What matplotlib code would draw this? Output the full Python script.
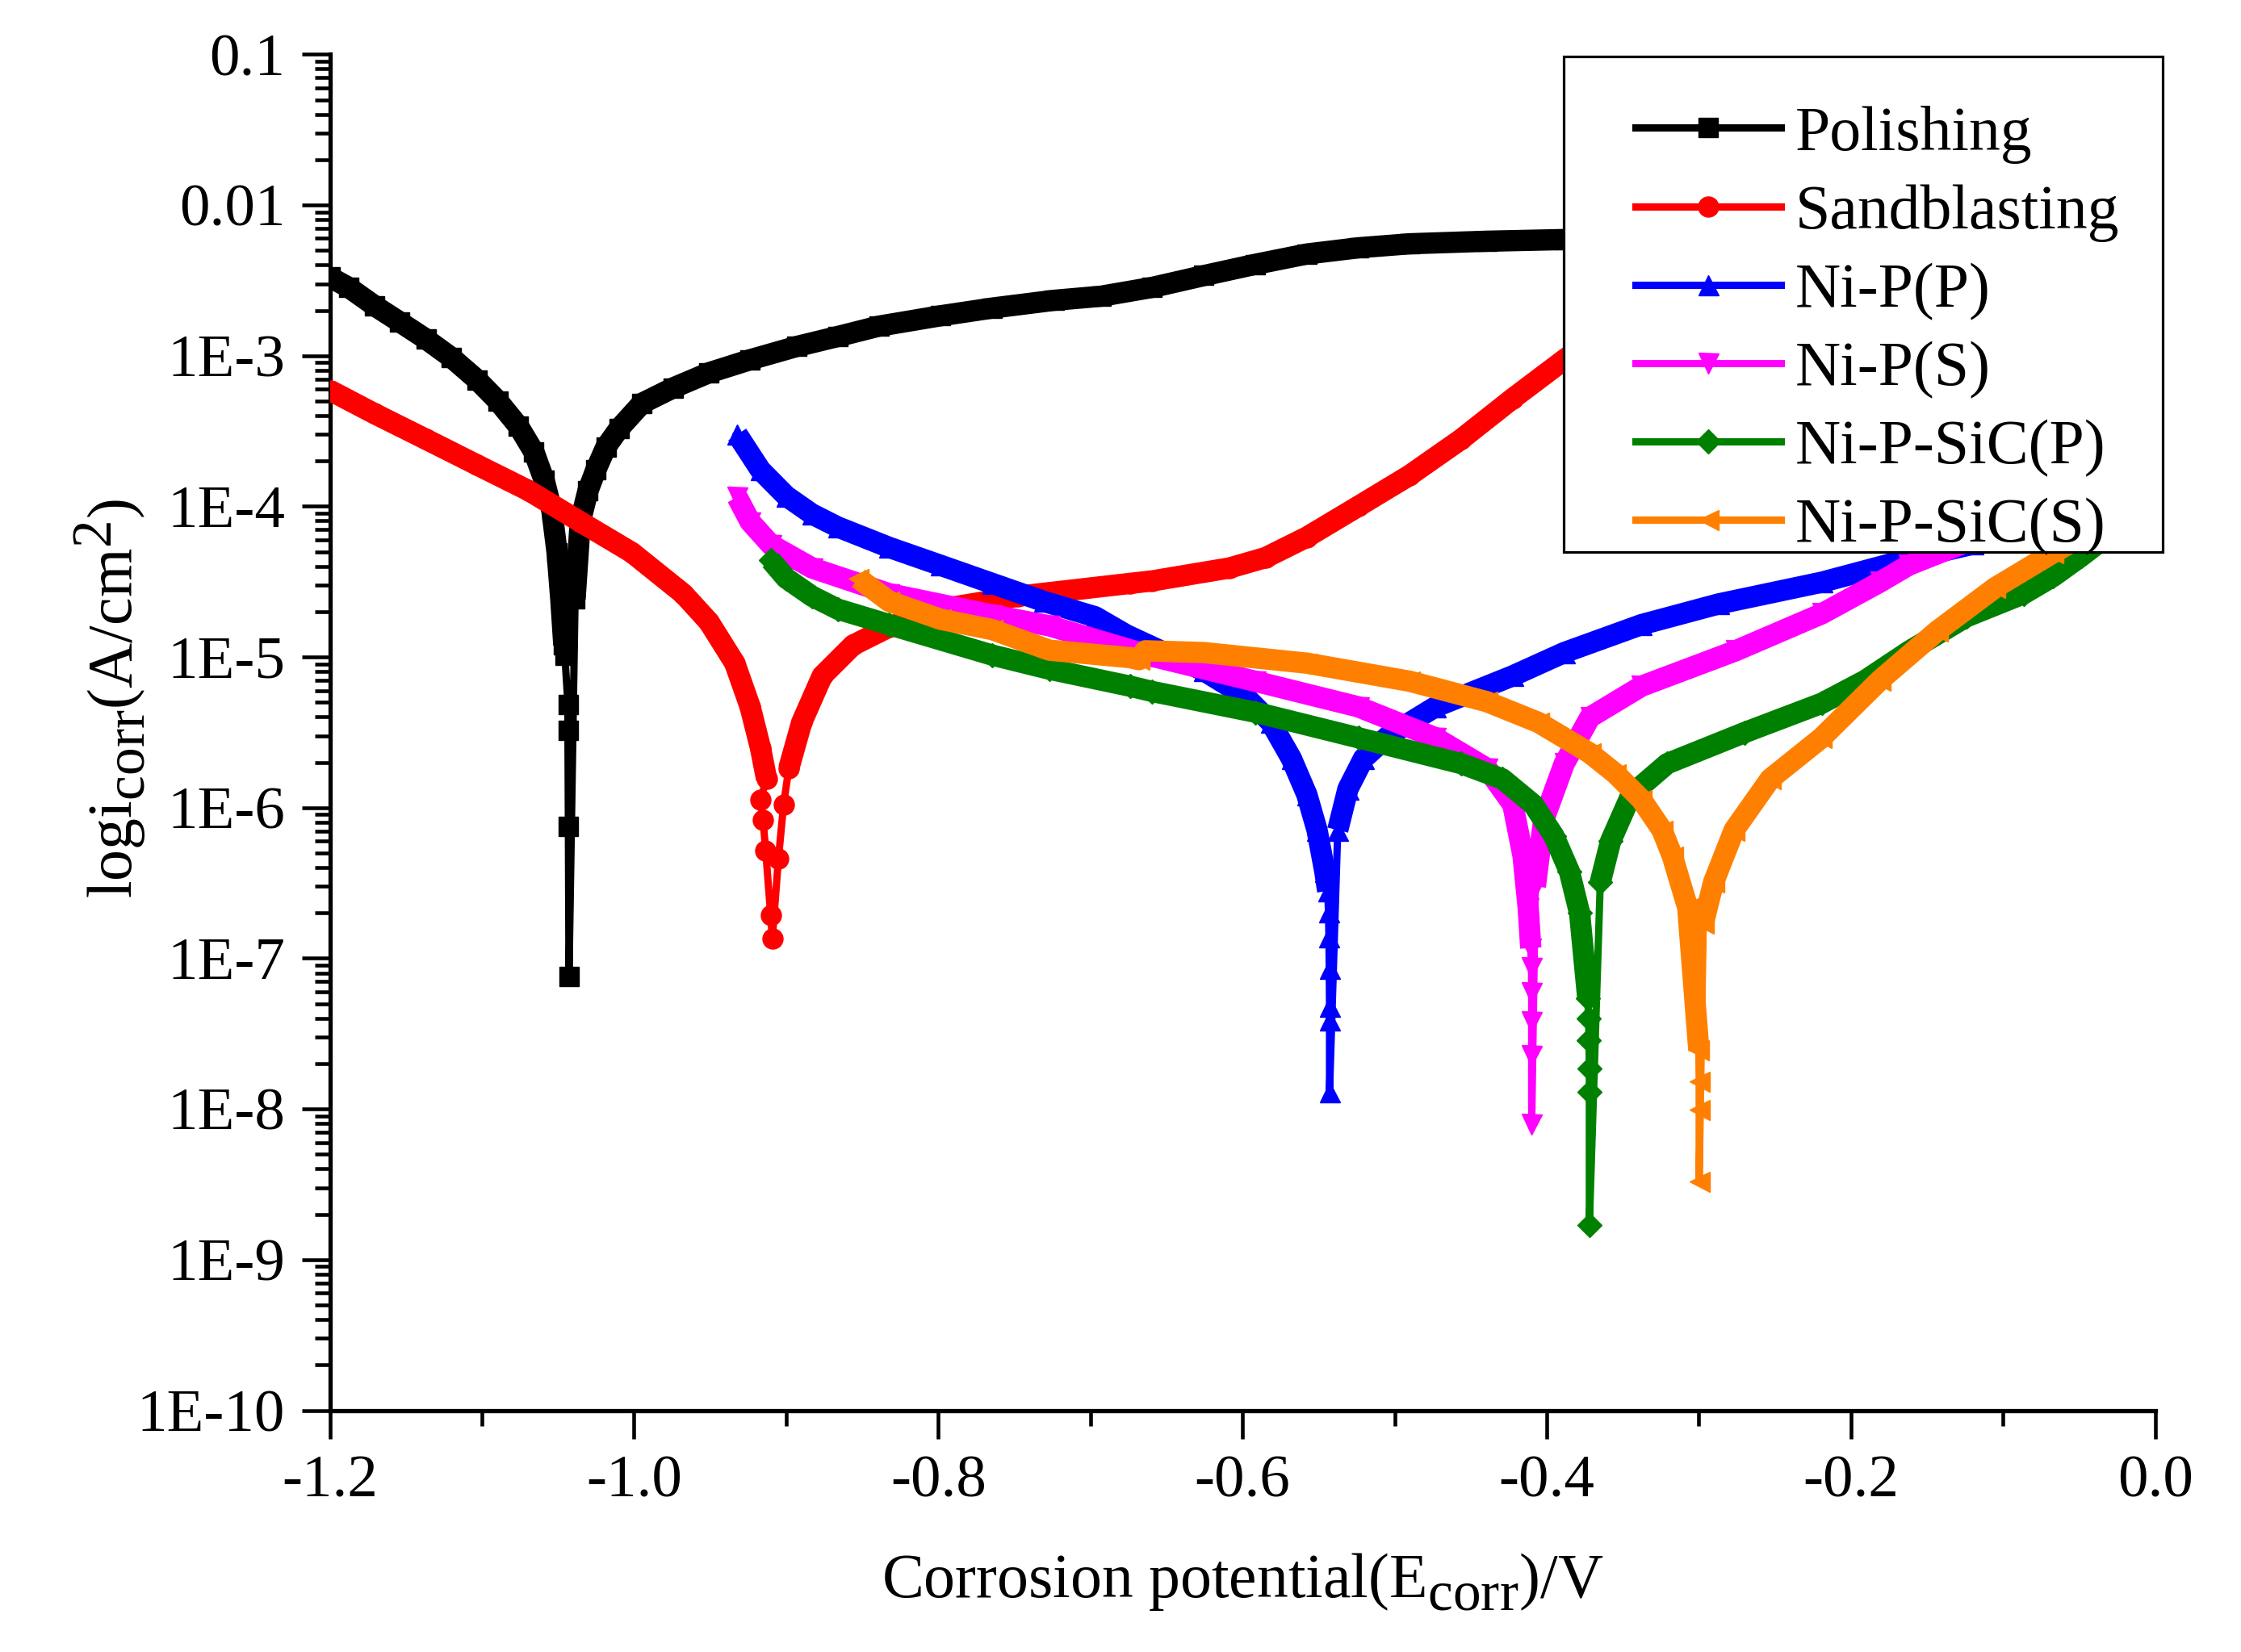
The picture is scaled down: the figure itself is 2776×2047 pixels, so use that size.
import matplotlib
matplotlib.use("Agg")
import matplotlib.pyplot as plt
import numpy as np
from matplotlib.ticker import FixedLocator, FixedFormatter, LogLocator, NullFormatter
from matplotlib.patches import Rectangle

try:
    import matplotlib._mathtext as _mt
    _mt.SHRINK_FACTOR = 0.89
    _mt.FontConstantsBase.sub1 = 0.45
except Exception:
    pass

# ---------------- data (E in V, i in A/cm2) ----------------
labels = ["Polishing", "Sandblasting", "Ni-P(P)", "Ni-P(S)", "Ni-P-SiC(P)", "Ni-P-SiC(S)"]

polishing_E = [-1.200, -1.1877, -1.1708, -1.1539, -1.1369, -1.1200, -1.1031, -1.0895, -1.0760,
               -1.0658, -1.0591, -1.0540, -1.0506, -1.0482, -1.0462, -1.0455, -1.0435, -1.0435,
               -1.0432, -1.0428,
               -1.0388, -1.0354, -1.0303, -1.0252, -1.0185, -1.0100, -0.9948, -0.9745, -0.9508,
               -0.9237, -0.8932, -0.8661, -0.8391, -0.7985, -0.7646, -0.7240, -0.6931, -0.6593,
               -0.6254, -0.5916, -0.5577, -0.5239, -0.4900, -0.4393, -0.3885, -0.340, -0.300]
polishing_I = [3.32e-3, 2.84e-3, 2.15e-3, 1.67e-3, 1.29e-3, 9.7e-4, 6.9e-4, 5.0e-4, 3.4e-4,
               2.29e-4, 1.49e-4, 9.3e-5, 4.9e-5, 2.43e-5, 1.2e-5, 1.02e-5, 4.85e-6, 3.27e-6,
               7.5e-7, 7.6e-8,
               2.43e-5, 7.9e-5, 1.27e-4, 1.74e-4, 2.48e-4, 3.27e-4, 4.83e-4, 6.1e-4, 7.7e-4,
               9.4e-4, 1.15e-3, 1.34e-3, 1.57e-3, 1.84e-3, 2.07e-3, 2.33e-3, 2.48e-3, 2.84e-3,
               3.40e-3, 4.04e-3, 4.73e-3, 5.20e-3, 5.53e-3, 5.75e-3, 5.90e-3, 6.0e-3, 6.2e-3]

sandblasting_E = [-1.200, -1.1708, -1.1369, -1.1031, -1.0692, -1.0354, -1.0015, -0.9677, -0.9508,
                  -0.9338, -0.9237, -0.9169, -0.9129, -0.9169, -0.9152, -0.9135, -0.9102, -0.9091,
                  -0.9051, -0.9017, -0.8983, -0.8898, -0.8763, -0.8560, -0.8323, -0.7985, -0.7477,
                  -0.6739, -0.6593, -0.6085, -0.5848, -0.5577, -0.5239, -0.4900, -0.4562, -0.4223,
                  -0.3885, -0.350, -0.300]
sandblasting_I = [5.89e-4, 4.13e-4, 2.79e-4, 1.88e-4, 1.27e-4, 7.9e-5, 4.94e-5, 2.63e-5, 1.71e-5,
                  9.1e-6, 4.67e-6, 2.49e-6, 1.55e-6, 1.13e-6, 8.3e-7, 5.2e-7, 1.93e-7, 1.36e-7,
                  4.6e-7, 1.05e-6, 1.82e-6, 3.68e-6, 7.5e-6, 1.2e-5, 1.58e-5, 2.08e-5, 2.53e-5,
                  3.08e-5, 3.2e-5, 3.9e-5, 4.57e-5, 6.25e-5, 1.0e-4, 1.61e-4, 2.79e-4, 5.2e-4,
                  9.4e-4, 1.8e-3, 3.5e-3]

nip_p_E = [-0.9322, -0.9169, -0.9000, -0.8831, -0.8662, -0.8323, -0.7985, -0.7646, -0.7308,
           -0.6969, -0.6762, -0.6254, -0.5984, -0.5814, -0.5679, -0.5577, -0.5510, -0.5459,
           -0.5440, -0.5435, -0.5432, -0.5430, -0.5428, -0.5428, -0.5428,
           -0.5374, -0.5307, -0.5205, -0.5036, -0.4731, -0.4223, -0.3885, -0.3377, -0.2870,
           -0.219, -0.162, -0.120, -0.060]
nip_p_I = [3.0e-4, 1.74e-4, 1.17e-4, 8.9e-5, 7.3e-5, 5.34e-5, 4.06e-5, 3.08e-5, 2.34e-5,
           1.85e-5, 1.40e-5, 8.1e-6, 5.5e-6, 3.68e-6, 2.12e-6, 1.22e-6, 7.1e-7, 3.77e-7,
           2.8e-7, 2.04e-7, 1.39e-7, 8.6e-8, 4.8e-8, 3.9e-8, 1.3e-8,
           7.1e-7, 1.33e-6, 2.12e-6, 3.03e-6, 4.67e-6, 7.5e-6, 1.07e-5, 1.64e-5, 2.25e-5,
           3.14e-5, 4.47e-5, 5.6e-5, 7.5e-5]

nip_s_E = [-0.9322, -0.9237, -0.9101, -0.8830, -0.8323, -0.7646, -0.727, -0.6593, -0.5916,
           -0.5239, -0.4731, -0.4393, -0.4223, -0.4156, -0.4122, -0.4105, -0.4100, -0.4099,
           -0.4099, -0.4099, -0.4099,
           -0.4075, -0.4020, -0.3885, -0.3716, -0.3377, -0.2758, -0.219, -0.181, -0.162,
           -0.120, -0.060]
nip_s_I = [1.15e-4, 7.9e-5, 5.56e-5, 3.9e-5, 2.63e-5, 1.9e-5, 1.61e-5, 1.01e-5, 6.9e-6,
           4.67e-6, 2.91e-6, 1.82e-6, 1.05e-6, 4.8e-7, 2.17e-7, 1.17e-7, 8.7e-8, 5.9e-8,
           3.8e-8, 2.27e-8, 7.9e-9,
           3.0e-7, 8.3e-7, 1.96e-6, 3.98e-6, 6.4e-6, 1.10e-5, 1.94e-5, 3.14e-5, 4.07e-5,
           6.0e-5, 9.0e-5]

nipsic_p_E = [-0.9102, -0.9000, -0.8830, -0.8662, -0.8323, -0.7646, -0.727, -0.6739, -0.6593,
              -0.5916, -0.5239, -0.4562, -0.4291, -0.4088, -0.3953, -0.3851, -0.3784, -0.3730,
              -0.3725, -0.3722, -0.3720, -0.3720, -0.3720,
              -0.3648, -0.3580, -0.3445, -0.3208, -0.2700, -0.219, -0.1906, -0.162, -0.124,
              -0.0864, -0.067, -0.0484, -0.030]
nipsic_p_I = [4.39e-5, 3.33e-5, 2.53e-5, 2.08e-5, 1.64e-5, 1.03e-5, 8.3e-6, 6.4e-6, 5.9e-6,
              4.3e-6, 2.91e-6, 1.96e-6, 1.55e-6, 1.05e-6, 6.5e-7, 3.77e-7, 2.0e-7, 5.4e-8,
              4.0e-8, 2.87e-8, 1.86e-8, 1.3e-8, 1.7e-9,
              3.2e-7, 6.0e-7, 1.22e-6, 1.96e-6, 3.15e-6, 4.94e-6, 7.0e-6, 1.09e-5, 1.85e-5,
              2.63e-5, 3.43e-5, 4.68e-5, 6.5e-5]

nipsic_s_E = [-0.8526, -0.8323, -0.7985, -0.7646, -0.727, -0.6739, -0.668, -0.664, -0.6254,
              -0.5577, -0.4900, -0.4393, -0.4055, -0.3716, -0.3547, -0.3377, -0.3242, -0.3174,
              -0.3073, -0.3000, -0.2998, -0.2998, -0.2998,
              -0.2971, -0.2903, -0.2768, -0.2531, -0.2193, -0.181, -0.1432, -0.1053, -0.0673,
              -0.040]
nipsic_s_I = [3.33e-5, 2.34e-5, 1.78e-5, 1.52e-5, 1.11e-5, 9.9e-6, 9.6e-6, 1.1e-5, 1.07e-5,
              9.1e-6, 6.9e-6, 5.05e-6, 3.68e-6, 2.3e-6, 1.68e-6, 1.13e-6, 7.1e-7, 4.77e-7,
              2.17e-7, 2.45e-8, 1.53e-8, 9.9e-9, 3.3e-9,
              1.7e-7, 3.2e-7, 7.1e-7, 1.55e-6, 2.91e-6, 7.0e-6, 1.49e-5, 2.88e-5, 4.9e-5,
              7.0e-5]

x_ticks = [-1.2, -1.0, -0.8, -0.6, -0.4, -0.2, 0.0]
x_ticklabels = ["-1.2", "-1.0", "-0.8", "-0.6", "-0.4", "-0.2", "0.0"]
x_minor = [-1.1, -0.9, -0.7, -0.5, -0.3, -0.1]
y_ticks = [1e-10, 1e-9, 1e-8, 1e-7, 1e-6, 1e-5, 1e-4, 1e-3, 1e-2, 1e-1]
y_ticklabels = ["1E-10", "1E-9", "1E-8", "1E-7", "1E-6", "1E-5", "1E-4", "1E-3", "0.01", "0.1"]

# ---------------- style ----------------
colors = ["#000000", "#FF0000", "#0000FF", "#FF00FF", "#008000", "#FF8000"]
markers = ["s", "o", "^", "v", "D", "<"]
marker_sizes = [17, 18, 18, 18, 15, 18]
band_threshold = [1.1e-5, 1.5e-6, 2.5e-7, 1.1e-7, 5.0e-8, 2.4e-8]

series_E = [polishing_E, sandblasting_E, nip_p_E, nip_s_E, nipsic_p_E, nipsic_s_E]
series_I = [polishing_I, sandblasting_I, nip_p_I, nip_s_I, nipsic_p_I, nipsic_s_I]

plt.rcParams["font.family"] = ["Liberation Serif", "DejaVu Serif"]
plt.rcParams["mathtext.fontset"] = "custom"
plt.rcParams["mathtext.rm"] = "Liberation Serif"
plt.rcParams["mathtext.it"] = "Liberation Serif:italic"
plt.rcParams["mathtext.bf"] = "Liberation Serif:bold"

fig = plt.figure(figsize=(27.76, 20.47), dpi=100)
ax = fig.add_axes([0.1472, 0.1463, 0.8145, 0.8208])

handles = []
for k in range(len(labels)):
    E = np.array(series_E[k])
    I = np.array(series_I[k])
    band = np.ma.masked_where(I < band_threshold[k], I)
    ax.plot(E, band, color=colors[k], lw=19, solid_joinstyle="round",
            solid_capstyle="butt", zorder=2 + 2 * k)
    h, = ax.plot(E, I, color=colors[k], lw=6.5, marker=markers[k], ms=marker_sizes[k],
                 mec=colors[k], mfc=colors[k], zorder=3 + 2 * k, label=labels[k],
                 solid_joinstyle="round")
    handles.append(h)

ax.set_yscale("log")
ax.set_xlim(-1.2, 0.0)
ax.set_ylim(1e-10, 1e-1)

ax.xaxis.set_major_locator(FixedLocator(x_ticks))
ax.xaxis.set_major_formatter(FixedFormatter(x_ticklabels))
ax.xaxis.set_minor_locator(FixedLocator(x_minor))
ax.yaxis.set_major_locator(FixedLocator(y_ticks))
ax.yaxis.set_major_formatter(FixedFormatter(y_ticklabels))
ax.yaxis.set_minor_locator(LogLocator(base=10, subs=np.arange(2, 10), numticks=30))
ax.yaxis.set_minor_formatter(NullFormatter())

for s in ["top", "right"]:
    ax.spines[s].set_visible(False)
for s in ["left", "bottom"]:
    ax.spines[s].set_linewidth(3.8)

ax.tick_params(which="major", direction="out", length=25, width=3.3, labelsize=54, pad=15)
ax.tick_params(which="minor", direction="out", length=13.7, width=3.3)

ax.set_xlabel(r"Corrosion potential(E$_{\mathregular{corr}}$)/V", fontsize=56)
ax.set_ylabel(r"logi$_{\mathregular{corr}}$(A/cm$^{\mathregular{2}}$)", fontsize=56)
ax.xaxis.set_label_coords(0.5, -0.104)
ax.yaxis.set_label_coords(-0.100, 0.525)

# legend frame and legend
frame = Rectangle((0.6978, 0.6658), 0.2673, 0.3000, transform=fig.transFigure,
                  facecolor="white", edgecolor="black", lw=2.3, zorder=20)
fig.patches.append(frame)
leg = fig.legend(handles=handles, labels=labels, loc="upper left",
                 bbox_to_anchor=(0.7297, 0.9362), frameon=False, fontsize=56,
                 handlelength=2.32, handletextpad=0.23, labelspacing=0.33,
                 borderpad=0, borderaxespad=0, numpoints=1)
leg.set_zorder(30)

fig.savefig("out.png", dpi=100)
